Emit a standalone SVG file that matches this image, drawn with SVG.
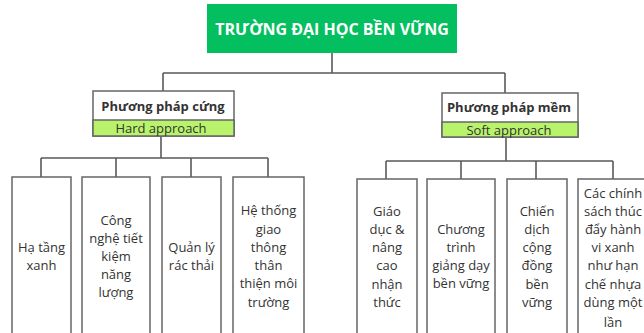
<svg xmlns="http://www.w3.org/2000/svg" width="644" height="333" viewBox="0 0 644 333">
<style>
.bg{fill:#ffffff}
.line{stroke:#5a5a5a;stroke-width:1.6;fill:none}
.box{fill:#ffffff;stroke:#666666;stroke-width:1.5}
.band{fill:#b9f36c;stroke:#666666;stroke-width:1.5}
.t{font-family:"Open Sans","Liberation Sans",sans-serif;font-size:13px;fill:#333333;text-anchor:middle;dominant-baseline:central}
.hb{font-weight:bold}
.title{font-family:"Open Sans","Liberation Sans",sans-serif;font-size:16px;font-weight:bold;fill:#ffffff;text-anchor:middle;dominant-baseline:central}
</style>
<rect class="bg" x="0" y="0" width="644" height="333"/>
<g id="connectors">
<path class="line" d="M332,53 V73 M163,73 H505 M163,73 V91 M505,73 V93"/>
<path class="line" d="M161,136 V158 M41,158 H268 M41,158 V177 M116,158 V177 M191,158 V177 M268,158 V177"/>
<path class="line" d="M506,137 V161 M386,161 H613 M386,161 V179 M461,161 V179 M536,161 V179 M613,161 V179"/>
</g>
<g id="root">
<rect x="207" y="4" width="250" height="49" fill="#04bf5f"/>
<text class="title" x="332" y="29">TRƯỜNG ĐẠI HỌC BỀN VỮNG</text>
</g>
<g id="hard">
<rect class="box" x="93" y="91" width="141" height="45"/>
<rect class="band" x="93" y="120" width="141" height="16"/>
<text class="t hb" x="163" y="106">Phương pháp cứng</text>
<text class="t" x="161" y="128">Hard approach</text>
</g>
<g id="soft">
<rect class="box" x="442" y="93" width="136" height="44"/>
<rect class="band" x="442" y="122" width="136" height="15"/>
<text class="t hb" x="509" y="107">Phương pháp mềm</text>
<text class="t" x="509" y="130">Soft approach</text>
</g>
<g id="h1">
<rect class="box" x="12" y="177" width="59" height="170"/>
<text class="t" x="41.5" y="247">Hạ tầng</text>
<text class="t" x="41.5" y="265">xanh</text>
</g>
<g id="h2">
<rect class="box" x="82" y="177" width="68" height="170"/>
<text class="t" x="116" y="220">Công</text>
<text class="t" x="116" y="238">nghệ tiết</text>
<text class="t" x="116" y="256">kiệm</text>
<text class="t" x="116" y="274">năng</text>
<text class="t" x="116" y="292">lượng</text>
</g>
<g id="h3">
<rect class="box" x="162" y="177" width="59" height="170"/>
<text class="t" x="191.5" y="247">Quản lý</text>
<text class="t" x="191.5" y="265">rác thải</text>
</g>
<g id="h4">
<rect class="box" x="233" y="177" width="71" height="170"/>
<text class="t" x="268.5" y="210">Hệ thống</text>
<text class="t" x="268.5" y="229">giao</text>
<text class="t" x="268.5" y="247">thông</text>
<text class="t" x="268.5" y="265">thân</text>
<text class="t" x="268.5" y="283">thiện môi</text>
<text class="t" x="268.5" y="302">trường</text>
</g>
<g id="s1">
<rect class="box" x="357" y="179" width="60" height="170"/>
<text class="t" x="387" y="211">Giáo</text>
<text class="t" x="387" y="229">dục &amp;</text>
<text class="t" x="387" y="247">nâng</text>
<text class="t" x="387" y="265">cao</text>
<text class="t" x="387" y="284">nhận</text>
<text class="t" x="387" y="302">thức</text>
</g>
<g id="s2">
<rect class="box" x="427" y="179" width="68" height="170"/>
<text class="t" x="461" y="229">Chương</text>
<text class="t" x="461" y="247">trình</text>
<text class="t" x="461" y="265">giảng dạy</text>
<text class="t" x="461" y="283">bền vững</text>
</g>
<g id="s3">
<rect class="box" x="507" y="179" width="60" height="170"/>
<text class="t" x="537" y="211">Chiến</text>
<text class="t" x="537" y="229">dịch</text>
<text class="t" x="537" y="247">cộng</text>
<text class="t" x="537" y="265">đồng</text>
<text class="t" x="537" y="284">bền</text>
<text class="t" x="537" y="302">vững</text>
</g>
<g id="s4">
<rect class="box" x="578" y="179" width="72" height="170"/>
<text class="t" x="613" y="193">Các chính</text>
<text class="t" x="613" y="211">sách thúc</text>
<text class="t" x="613" y="229">đẩy hành</text>
<text class="t" x="613" y="247">vi xanh</text>
<text class="t" x="613" y="265">như hạn</text>
<text class="t" x="613" y="284">chế nhựa</text>
<text class="t" x="613" y="302">dùng một</text>
<text class="t" x="613" y="322">lần</text>
</g>
</svg>
